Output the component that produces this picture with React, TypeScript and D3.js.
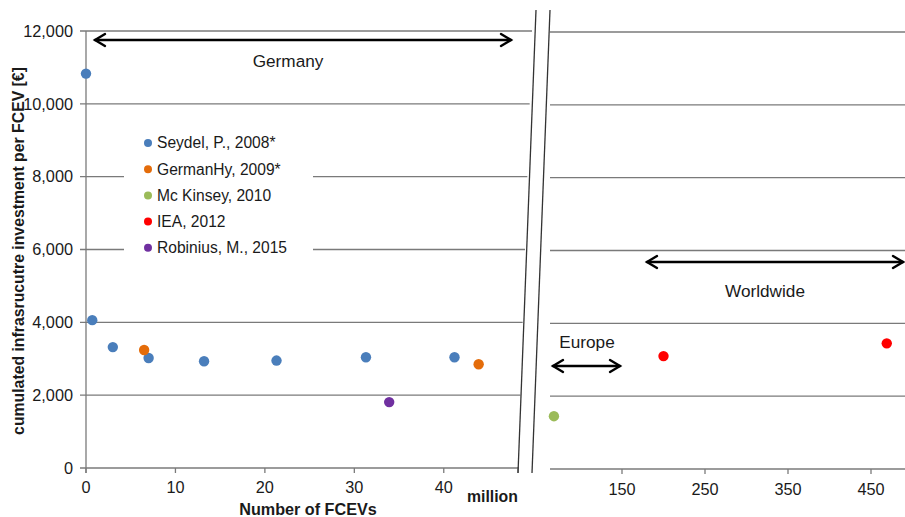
import React from "react";
import * as d3 from "d3";

const W = 905;
const H = 517;

// Data
const seydelX = [0, 0.7, 3, 7, 13.2, 21.3, 31.3, 41.2];
const seydelY = [10830, 4060, 3320, 3020, 2930, 2950, 3040, 3040];
const germanHyX = [6.5, 43.9];
const germanHyY = [3240, 2850];
const robiniusX = [33.9];
const robiniusY = [1810];
const mcKinseyX = [68];
const mcKinseyY = [1450];
const ieaX = [200, 469];
const ieaY = [3100, 3450];

const legendLabels = [
  "Seydel, P., 2008*",
  "GermanHy, 2009*",
  "Mc Kinsey, 2010",
  "IEA, 2012",
  "Robinius, M., 2015",
];
const colors = ["#4A7EBB", "#E46C0A", "#9BBB59", "#FF0000", "#7030A0"];

const yTicks = [0, 2000, 4000, 6000, 8000, 10000, 12000];
const xTicksLeft = [0, 10, 20, 30, 40];
const xTicksRight = [150, 250, 350, 450];

const leftSeries = [
  { xs: seydelX, ys: seydelY, c: 0 },
  { xs: germanHyX, ys: germanHyY, c: 1 },
  { xs: robiniusX, ys: robiniusY, c: 4 },
];
const rightSeries = [
  { xs: mcKinseyX, ys: mcKinseyY, c: 2 },
  { xs: ieaX, ys: ieaY, c: 3 },
];

const FONT = "Arial, 'Liberation Sans', Helvetica, sans-serif";
const GRID = "#7a7a7a";
const TXT = "#1a1a1a";

function Arrow({ x1, x2, y }: { x1: number; x2: number; y: number }) {
  const a = 10;
  const h = 6;
  return (
    <g stroke="#000" strokeWidth={2.4} fill="none" strokeLinecap="round">
      <line x1={x1} x2={x2} y1={y} y2={y} />
      <path d={`M${x1 + a},${y - h} L${x1},${y} L${x1 + a},${y + h}`} />
      <path d={`M${x2 - a},${y - h} L${x2},${y} L${x2 - a},${y + h}`} />
    </g>
  );
}

export default function App() {
  const xL = d3.scaleLinear().domain([0, 48.3]).range([86, 518]);
  const yL = d3.scaleLinear().domain([0, 12000]).range([468, 31]);
  const xR = d3.scaleLinear().domain([150, 450]).range([622, 871]);
  const yR = d3.scaleLinear().domain([0, 12000]).range([469, 32]);

  // gridline end in left panel follows the break slant
  const leftEnd = d3.scaleLinear().domain([31, 468]).range([532, 518]);

  return (
    <svg
      width={W}
      height={H}
      style={{ position: "absolute", left: 0, top: 0, background: "#fff" }}
      fontFamily={FONT}
    >
      <rect x={0} y={0} width={W} height={H} fill="#fff" />
      {/* Left panel gridlines */}
      {yTicks.map((t) => (
        <line
          key={"gl" + t}
          x1={80}
          x2={leftEnd(yL(t))}
          y1={yL(t)}
          y2={yL(t)}
          stroke={GRID}
          strokeWidth={1.3}
        />
      ))}
      {/* left y axis line */}
      <line x1={86} x2={86} y1={yL(12000)} y2={yL(0) + 5} stroke={GRID} strokeWidth={1.3} />
      {/* left x ticks */}
      {xTicksLeft.map((t) => (
        <line key={"xt" + t} x1={xL(t)} x2={xL(t)} y1={yL(0)} y2={yL(0) + 5} stroke={GRID} strokeWidth={1.3} />
      ))}
      <line x1={518} x2={518} y1={yL(0) - 1} y2={yL(0) + 5} stroke={GRID} strokeWidth={1.3} />

      {/* y tick labels */}
      {yTicks.map((t) => (
        <text
          key={"yl" + t}
          x={73}
          y={yL(t)}
          dy="0.35em"
          textAnchor="end"
          fontSize={16.3}
          fill={TXT}
        >
          {d3.format(",")(t)}
        </text>
      ))}
      {/* x tick labels left */}
      {xTicksLeft.map((t) => (
        <text key={"xl" + t} x={xL(t)} y={493} textAnchor="middle" fontSize={16.3} fill={TXT}>
          {t}
        </text>
      ))}

      {/* Right panel gridlines */}
      {yTicks.map((t) => (
        <line
          key={"gr" + t}
          x1={550}
          x2={W}
          y1={yR(t)}
          y2={yR(t)}
          stroke={GRID}
          strokeWidth={1.3}
        />
      ))}
      {xTicksRight.map((t) => (
        <line key={"xrt" + t} x1={xR(t)} x2={xR(t)} y1={yR(0)} y2={yR(0) + 5} stroke={GRID} strokeWidth={1.3} />
      ))}
      {xTicksRight.map((t) => (
        <text key={"xrl" + t} x={xR(t)} y={495} textAnchor="middle" fontSize={16.3} fill={TXT}>
          {t}
        </text>
      ))}

      {/* break lines */}
      <line x1={536} y1={10} x2={518} y2={473} stroke="#333" strokeWidth={1.3} />
      <line x1={550} y1={10} x2={532} y2={473} stroke="#333" strokeWidth={1.3} />

      {/* Legend box */}
      <rect x={124} y={116} width={189} height={147} fill="#fff" />
      {legendLabels.map((l, i) => (
        <g key={l}>
          <circle cx={148} cy={143 + i * 26.2} r={4} fill={colors[i]} />
          <text x={157} y={143 + i * 26.2} dy="0.35em" fontSize={15.6} fill={TXT}>
            {l}
          </text>
        </g>
      ))}

      {/* Points */}
      {leftSeries.map((s, si) =>
        s.xs.map((x, i) => (
          <circle key={"pl" + si + "-" + i} cx={xL(x)} cy={yL(s.ys[i])} r={5.2} fill={colors[s.c]} />
        ))
      )}
      {rightSeries.map((s, si) =>
        s.xs.map((x, i) => (
          <circle key={"pr" + si + "-" + i} cx={xR(x)} cy={yR(s.ys[i])} r={5.2} fill={colors[s.c]} />
        ))
      )}

      {/* Region arrows */}
      <Arrow x1={95} x2={511} y={40} />
      <text x={288} y={67} textAnchor="middle" fontSize={17.2} fill={TXT}>
        Germany
      </text>
      <Arrow x1={553} x2={620} y={366} />
      <text x={587} y={348} textAnchor="middle" fontSize={17.2} fill={TXT}>
        Europe
      </text>
      <Arrow x1={647} x2={903} y={262} />
      <text x={765} y={297} textAnchor="middle" fontSize={17.2} fill={TXT}>
        Worldwide
      </text>

      {/* Axis titles */}
      <text x={467} y={502} fontSize={15.8} fontWeight="bold" fill={TXT}>
        million
      </text>
      <text x={308} y={515} textAnchor="middle" fontSize={16.2} fontWeight="bold" fill={TXT}>
        Number of FCEVs
      </text>
      <text
        transform="translate(24,251) rotate(-90)"
        textAnchor="middle"
        fontSize={15.8}
        fontWeight="bold"
        fill={TXT}
      >
        cumulated infrasrucutre investment per FCEV [€]
      </text>
    </svg>
  );
}
